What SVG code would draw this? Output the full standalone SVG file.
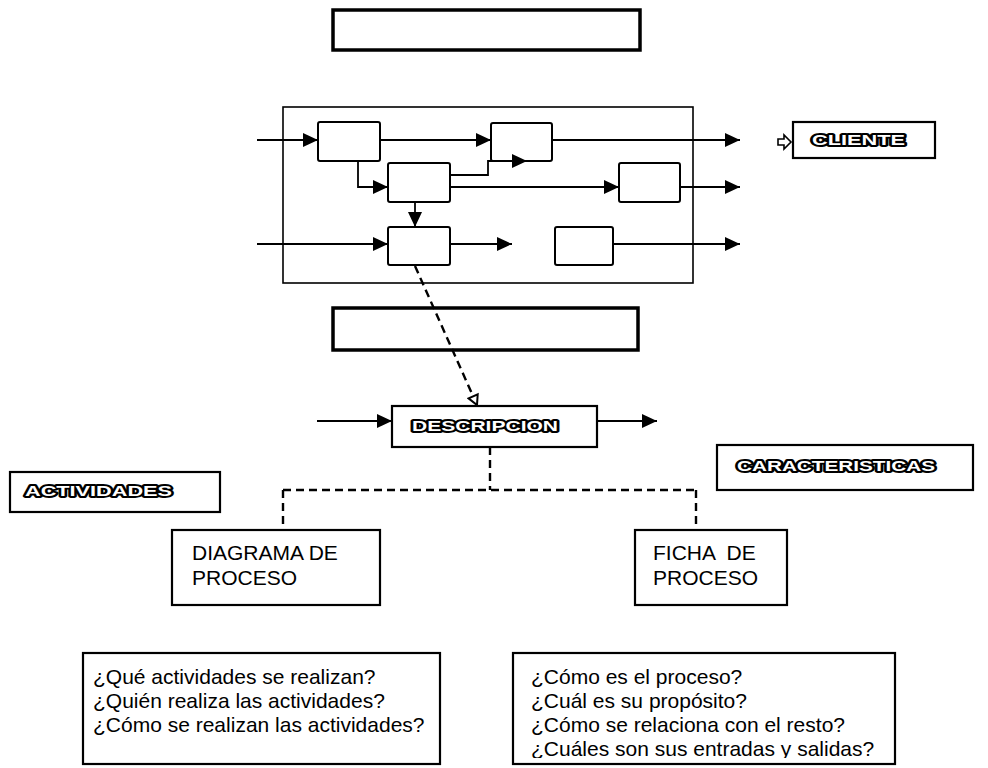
<svg xmlns="http://www.w3.org/2000/svg" width="988" height="768" viewBox="0 0 988 768">
  <style>
    .bg { fill: #fff; }
    .frame { fill: none; stroke: #000; stroke-width: 3.5; }
    .panel { fill: none; stroke: #000; stroke-width: 1.6; }
    .step { fill: #fff; stroke: #000; stroke-width: 2; }
    .box { fill: #fff; stroke: #000; stroke-width: 2.2; }
    .wire { fill: none; stroke: #000; stroke-width: 1.8; }
    .dash { fill: none; stroke: #000; stroke-width: 2.4; stroke-dasharray: 8 5; }
    .ol { font-family: "Liberation Sans", Arial, sans-serif; font-weight: bold; fill: #fff; stroke: #000; stroke-width: 3.8; stroke-linejoin: round; paint-order: stroke; }
    .txt { font-family: "Liberation Sans", Arial, sans-serif; fill: #000; }
    .q { font-family: "Liberation Sans", Arial, sans-serif; fill: #000; font-size: 21px; }
  </style>
  <defs>
    <marker id="ah" markerWidth="16" markerHeight="14" refX="15" refY="7" orient="auto" markerUnits="userSpaceOnUse">
      <path d="M0,0 L15,7 L0,14 z" fill="#000"/>
    </marker>
    <marker id="oh" markerWidth="13" markerHeight="13" refX="11" refY="6.5" orient="auto" markerUnits="userSpaceOnUse">
      <path d="M1.5,1.5 L11,6.5 L1.5,11.5 z" fill="#fff" stroke="#000" stroke-width="2" stroke-dasharray="none"/>
    </marker>
    <clipPath id="clipBottom">
      <rect x="0" y="0" width="988" height="758"/>
    </clipPath>
  </defs>

  <rect class="bg" x="0" y="0" width="988" height="768"/>

  <!-- upper title frame -->
  <g id="frame-top">
    <rect class="frame" x="333" y="10" width="307" height="40"/>
  </g>

  <!-- process panel with its steps -->
  <g id="panel">
    <rect class="panel" x="283" y="107" width="410" height="176"/>
  </g>
  <g id="step-a"><rect class="step" x="318" y="122" width="62" height="39" rx="2"/></g>
  <g id="step-b"><rect class="step" x="491" y="123" width="61" height="38" rx="2"/></g>
  <g id="step-c"><rect class="step" x="388" y="163" width="62" height="39" rx="2"/></g>
  <g id="step-d"><rect class="step" x="619" y="163" width="61" height="39" rx="2"/></g>
  <g id="step-e"><rect class="step" x="388" y="227" width="62" height="38" rx="2"/></g>
  <g id="step-f"><rect class="step" x="555" y="227" width="58" height="38" rx="2"/></g>

  <!-- customer label -->
  <g id="cliente">
    <path d="M778,139 H784 V135 L791,142 L784,149 V145 H778 z" fill="#fff" stroke="#000" stroke-width="1.6"/>
    <rect class="box" x="793" y="122" width="142" height="36"/>
    <text class="ol" x="812" y="145" font-size="14" textLength="93" lengthAdjust="spacingAndGlyphs">CLIENTE</text>
  </g>

  <!-- lower title frame -->
  <g id="frame-mid">
    <rect class="frame" x="333" y="308" width="305" height="42"/>
  </g>

  <g id="descripcion">
    <rect class="box" x="392" y="406" width="205" height="41"/>
    <text class="ol" x="412" y="431" font-size="14" textLength="146" lengthAdjust="spacingAndGlyphs">DESCRIPCION</text>
  </g>

  <g id="actividades">
    <rect class="box" x="10" y="472" width="210" height="40"/>
    <text class="ol" x="25" y="496" font-size="15" textLength="147" lengthAdjust="spacingAndGlyphs">ACTIVIDADES</text>
  </g>

  <g id="caracteristicas">
    <rect class="box" x="717" y="445" width="256" height="45"/>
    <text class="ol" x="737" y="471" font-size="14" textLength="198" lengthAdjust="spacingAndGlyphs">CARACTERISTICAS</text>
  </g>

  <g id="diagrama">
    <rect class="box" x="172" y="530" width="208" height="75"/>
    <text class="txt" x="192" y="560" font-size="21">DIAGRAMA DE</text>
    <text class="txt" x="192" y="585" font-size="21">PROCESO</text>
  </g>

  <g id="ficha">
    <rect class="box" x="635" y="530" width="152" height="75"/>
    <text class="txt" x="653" y="560" font-size="21" xml:space="preserve">FICHA  DE</text>
    <text class="txt" x="653" y="585" font-size="21">PROCESO</text>
  </g>

  <g id="preguntas-actividades">
    <rect class="box" x="83" y="653" width="357" height="111"/>
    <text class="q" x="93" y="684">¿Qué actividades se realizan?</text>
    <text class="q" x="93" y="708">¿Quién realiza las actividades?</text>
    <text class="q" x="93" y="732">¿Cómo se realizan las actividades?</text>
  </g>

  <g id="preguntas-ficha">
    <rect class="box" x="513" y="653" width="382" height="111"/>
    <g clip-path="url(#clipBottom)">
      <text class="q" x="531" y="684">¿Cómo es el proceso?</text>
      <text class="q" x="531" y="708">¿Cuál es su propósito?</text>
      <text class="q" x="531" y="732">¿Cómo se relaciona con el resto?</text>
      <text class="q" x="531" y="756">¿Cuáles son sus entradas y salidas?</text>
    </g>
  </g>

  <!-- connectors -->
  <g id="connectors">
    <path class="wire" d="M257,140 H318" marker-end="url(#ah)"/>
    <path class="wire" d="M380,140 H491" marker-end="url(#ah)"/>
    <path class="wire" d="M552,140 H740" marker-end="url(#ah)"/>
    <path class="wire" d="M358,161 V187 H388" marker-end="url(#ah)"/>
    <path class="wire" d="M450,175 H488 V161 H527" marker-end="url(#ah)"/>
    <path class="wire" d="M450,187 H619" marker-end="url(#ah)"/>
    <path class="wire" d="M680,187 H740" marker-end="url(#ah)"/>
    <path class="wire" d="M415,202 V227" marker-end="url(#ah)"/>
    <path class="wire" d="M257,244 H388" marker-end="url(#ah)"/>
    <path class="wire" d="M450,244 H512" marker-end="url(#ah)"/>
    <path class="wire" d="M613,244 H740" marker-end="url(#ah)"/>
    <path class="dash" d="M415,266 L477,405" marker-end="url(#oh)"/>
    <path class="wire" d="M317,421 H392" marker-end="url(#ah)"/>
    <path class="wire" d="M597,421 H657" marker-end="url(#ah)"/>
    <path class="dash" d="M490,447 V490"/>
    <path class="dash" d="M283,490 H696"/>
    <path class="dash" d="M283,490 V530"/>
    <path class="dash" d="M696,490 V530"/>
  </g>
</svg>
